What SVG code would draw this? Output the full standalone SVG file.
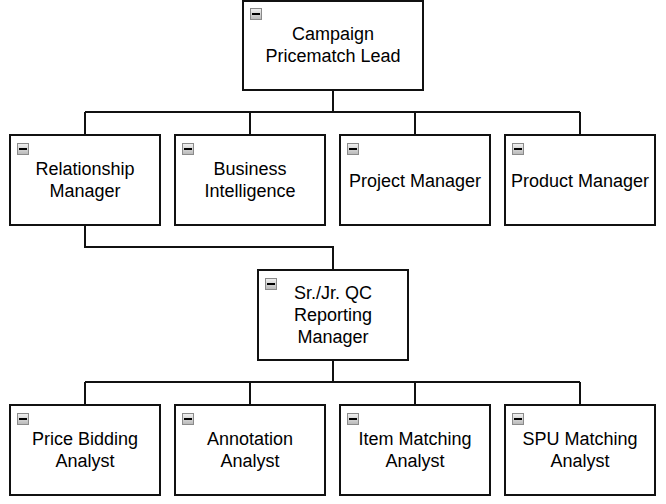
<svg xmlns="http://www.w3.org/2000/svg" width="666" height="504" viewBox="0 0 666 504">
<defs>
<linearGradient id="ig" x1="0" y1="0" x2="0" y2="1">
<stop offset="0" stop-color="#f2f2f2"/>
<stop offset="1" stop-color="#b8b8b8"/>
</linearGradient>
<symbol id="minus" viewBox="0 0 12 12" overflow="visible">
<rect x="0.5" y="0.5" width="11" height="11" fill="url(#ig)" stroke="#8a8a8a" stroke-width="1"/>
<line x1="2" y1="6" x2="10" y2="6" stroke="#000" stroke-width="2"/>
</symbol>
</defs>
<style>
rect.box{fill:#fff;stroke:#111;stroke-width:2}
text{font-family:"Liberation Sans",Arial,sans-serif;font-size:18px;fill:#000;text-anchor:middle}
.conn path{fill:none;stroke:#111;stroke-width:2}
</style>
<rect width="666" height="504" fill="#fff"/>
<g class="conn" id="connectors">
<path d="M333 90V112M85 112H580M85 112V135M250 112V135M415 112V135M580 112V135"/>
<path d="M85 225V247H333V270"/>
<path d="M333 360V382M85 382H580M85 382V405M250 382V405M415 382V405M580 382V405"/>
</g>
<g id="n-lead"><rect class="box" x="243" y="1" width="180" height="89"/><use href="#minus" x="250" y="8" width="12" height="12"/><text x="333" y="40">Campaign</text><text x="333" y="62">Pricematch Lead</text></g>
<g id="n-rm"><rect class="box" x="10" y="135" width="150" height="90"/><use href="#minus" x="17" y="143" width="12" height="12"/><text x="85" y="175">Relationship</text><text x="85" y="197">Manager</text></g>
<g id="n-bi"><rect class="box" x="175" y="135" width="150" height="90"/><use href="#minus" x="182" y="143" width="12" height="12"/><text x="250" y="175">Business</text><text x="250" y="197">Intelligence</text></g>
<g id="n-pm"><rect class="box" x="340" y="135" width="150" height="90"/><use href="#minus" x="347" y="143" width="12" height="12"/><text x="415" y="187">Project Manager</text></g>
<g id="n-prm"><rect class="box" x="505" y="135" width="150" height="90"/><use href="#minus" x="512" y="143" width="12" height="12"/><text x="580" y="187">Product Manager</text></g>
<g id="n-qc"><rect class="box" x="258" y="270" width="150" height="90"/><use href="#minus" x="265" y="278" width="12" height="12"/><text x="333" y="299">Sr./Jr. QC</text><text x="333" y="321">Reporting</text><text x="333" y="343">Manager</text></g>
<g id="n-pba"><rect class="box" x="10" y="405" width="150" height="90"/><use href="#minus" x="17" y="413" width="12" height="12"/><text x="85" y="445">Price Bidding</text><text x="85" y="467">Analyst</text></g>
<g id="n-aa"><rect class="box" x="175" y="405" width="150" height="90"/><use href="#minus" x="182" y="413" width="12" height="12"/><text x="250" y="445">Annotation</text><text x="250" y="467">Analyst</text></g>
<g id="n-ima"><rect class="box" x="340" y="405" width="150" height="90"/><use href="#minus" x="347" y="413" width="12" height="12"/><text x="415" y="445">Item Matching</text><text x="415" y="467">Analyst</text></g>
<g id="n-spu"><rect class="box" x="505" y="405" width="150" height="90"/><use href="#minus" x="512" y="413" width="12" height="12"/><text x="580" y="445">SPU Matching</text><text x="580" y="467">Analyst</text></g>
</svg>
